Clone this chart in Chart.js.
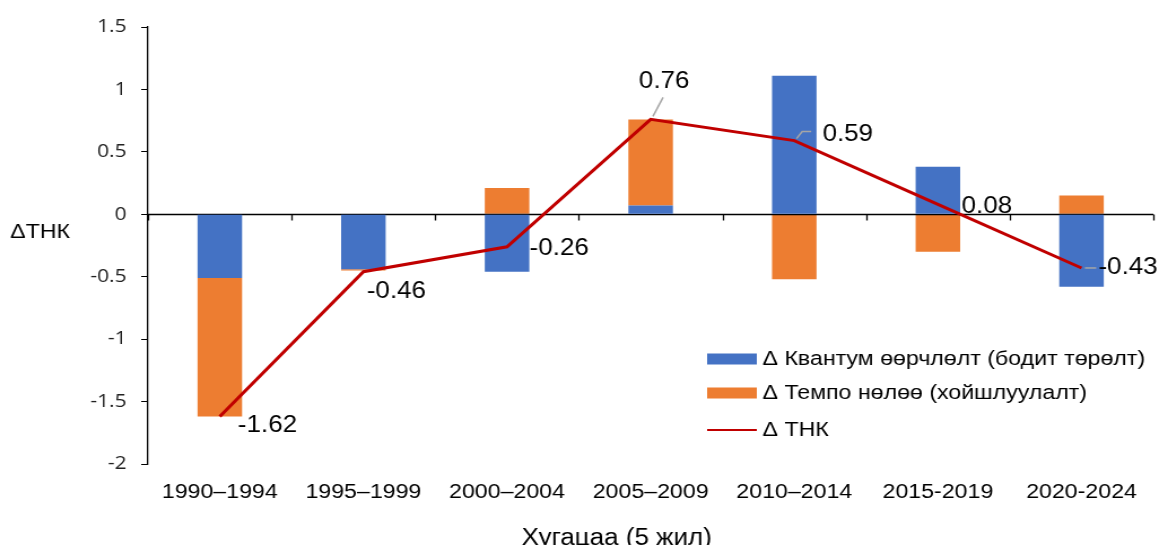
<!DOCTYPE html>
<html>
<head>
<meta charset="utf-8">
<script src="https://cdn.jsdelivr.net/npm/chart.js@4.4.1/dist/chart.umd.min.js"></script>
<style>
  body { margin: 0; background: #fff; overflow: hidden; }
  /* the original picture is a little wider than it was drawn */
  #wrap { width: 1034px; height: 545px; transform: scaleX(1.1296); transform-origin: 0 0; }
  canvas { display: block; }
</style>
</head>
<body>
<div id="wrap"><canvas id="chart" width="1034" height="545"></canvas></div>
<script>
// periods
const periods = ['1990–1994', '1995–1999', '2000–2004', '2005–2009', '2010–2014', '2015-2019', '2020-2024'];
// Δ quantum change (real births)
const quantum = [-0.51, -0.44, -0.46, 0.07, 1.11, 0.38, -0.58];
// Δ tempo effect (postponement)
const tempo = [-1.11, -0.01, 0.21, 0.69, -0.52, -0.30, 0.15];
// Δ TFR
const tfr = [-1.62, -0.46, -0.26, 0.76, 0.59, 0.08, -0.43];
const tfrLabels = ['-1.62', '-0.46', '-0.26', '0.76', '0.59', '0.08', '-0.43'];

// label offsets from each point: [dx, dy, align, leader]
const labelPos = [
    [16, 9, 'left', null],
    [3, 20, 'left', null],
    [20, 2, 'left', null],
    [12, -38, 'center', 'up'],
    [25, -6, 'left', 'elbow'],
    [21, 2, 'left', null],
    [15, 0, 'left', 'flat']
];

const ARIAL = '"Liberation Sans", Arial, sans-serif';

// zero line with category tick marks, drawn after bars
const zeroAxis = {
    id: 'zeroAxis',
    afterDatasetDraw(chart, args) {
        if (args.index !== 1) return;
        const ctx = chart.ctx;
        const x = chart.scales.x, y = chart.scales.y;
        const y0 = Math.round(y.getPixelForValue(0)) + 0.5;
        const step = x.getPixelForValue(1) - x.getPixelForValue(0);
        ctx.save();
        ctx.strokeStyle = '#000';
        ctx.lineWidth = 1.3;
        ctx.beginPath();
        ctx.moveTo(chart.chartArea.left, y0);
        ctx.lineTo(chart.chartArea.right, y0);
        for (let i = 0; i <= periods.length; i++) {
            const px = Math.round(x.getPixelForValue(i) - step / 2) + 0.5;
            ctx.moveTo(px, y0);
            ctx.lineTo(px, y0 + 6);
        }
        ctx.stroke();
        ctx.restore();
    }
};

// values next to the ΔТНК line
const lineLabels = {
    id: 'lineLabels',
    afterDatasetsDraw(chart) {
        const ctx = chart.ctx;
        const meta = chart.getDatasetMeta(2);
        ctx.save();
        ctx.font = '23px ' + ARIAL;
        ctx.textBaseline = 'middle';
        meta.data.forEach((pt, i) => {
            const [dx, dy, align, leader] = labelPos[i];
            ctx.strokeStyle = '#A6A6A6';
            ctx.lineWidth = 1.5;
            ctx.beginPath();
            if (leader === 'up') {
                ctx.moveTo(pt.x + 2, pt.y - 3);
                ctx.lineTo(pt.x + 11, pt.y - 22);
            } else if (leader === 'elbow') {
                ctx.moveTo(pt.x + 2, pt.y - 2);
                ctx.lineTo(pt.x + 7, pt.y - 9);
                ctx.lineTo(pt.x + 15, pt.y - 9);
            } else if (leader === 'flat') {
                ctx.moveTo(pt.x + 3, pt.y);
                ctx.lineTo(pt.x + 13, pt.y);
            }
            ctx.stroke();
            ctx.fillStyle = '#000';
            ctx.textAlign = align;
            ctx.fillText(tfrLabels[i], pt.x + dx, pt.y + dy);
        });
        ctx.restore();
    }
};

// horizontal axis titles and the legend inside the plot
const extras = {
    id: 'extras',
    afterDraw(chart) {
        const ctx = chart.ctx;
        const area = chart.chartArea;
        const y = chart.scales.y;
        ctx.save();
        ctx.fillStyle = '#000';
        ctx.font = '20.5px ' + ARIAL;
        ctx.textAlign = 'left';
        ctx.textBaseline = 'middle';
        ctx.fillText('ΔТНК', area.left - 122, y.getPixelForValue(0) + 18);

        ctx.font = '23px ' + ARIAL;
        ctx.textAlign = 'center';
        ctx.textBaseline = 'alphabetic';
        ctx.fillText('Хугацаа (5 жил)', (area.left + area.right) / 2 - 30, chart.height);

        const rows = [area.bottom - 105, area.bottom - 71, area.bottom - 34];
        const bx = area.right - 395;
        ctx.font = '20.5px ' + ARIAL;
        ctx.textAlign = 'left';
        ctx.textBaseline = 'middle';
        chart.data.datasets.forEach((ds, i) => {
            const ry = rows[i];
            if (ds.type === 'line') {
                ctx.strokeStyle = ds.borderColor;
                ctx.lineWidth = 2;
                ctx.beginPath();
                ctx.moveTo(bx, ry);
                ctx.lineTo(bx + 44, ry);
                ctx.stroke();
            } else {
                ctx.fillStyle = ds.backgroundColor;
                ctx.fillRect(bx, ry - 5.5, 44, 11);
            }
            ctx.fillStyle = '#000';
            ctx.fillText(ds.label, bx + 49, ry);
        });
        ctx.restore();
    }
};

new Chart(document.getElementById('chart'), {
    data: {
        labels: periods,
        datasets: [{
            type: 'bar',
            label: 'Δ Квантум өөрчлөлт (бодит төрөлт)',
            data: quantum,
            backgroundColor: '#4472C4',
            stack: 'bars',
            order: 1,
            categoryPercentage: 1,
            barPercentage: 0.31
        }, {
            type: 'bar',
            label: 'Δ Темпо нөлөө (хойшлуулалт)',
            data: tempo,
            backgroundColor: '#ED7D31',
            stack: 'bars',
            order: 1,
            categoryPercentage: 1,
            barPercentage: 0.31
        }, {
            type: 'line',
            label: 'Δ ТНК',
            data: tfr,
            borderColor: '#C00000',
            borderWidth: 3,
            pointRadius: 0,
            tension: 0,
            stack: 'line',
            order: 0
        }]
    },
    options: {
        responsive: false,
        animation: false,
        layout: { padding: { left: 76, right: 13, top: 27, bottom: 0 } },
        plugins: {
            legend: { display: false },
            tooltip: { enabled: false }
        },
        scales: {
            x: {
                stacked: true,
                grid: { display: false, drawTicks: false },
                border: { display: false },
                ticks: { color: '#000', padding: 16, font: { family: ARIAL, size: 20.5 } },
                afterFit(scale) { scale.height = 81; }
            },
            y: {
                stacked: true,
                min: -2,
                max: 1.5,
                ticks: {
                    stepSize: 0.5,
                    color: '#222',
                    padding: 13,
                    font: { family: '"Open Sans", sans-serif', size: 18.5 },
                    callback: v => String(+v.toFixed(2))
                },
                grid: { drawOnChartArea: false, drawTicks: true, tickLength: 6, color: '#000' },
                border: { color: '#000', width: 1.3 },
                afterFit(scale) { scale.width = 55; }
            }
        }
    },
    plugins: [zeroAxis, lineLabels, extras]
});
</script>
</body>
</html>
